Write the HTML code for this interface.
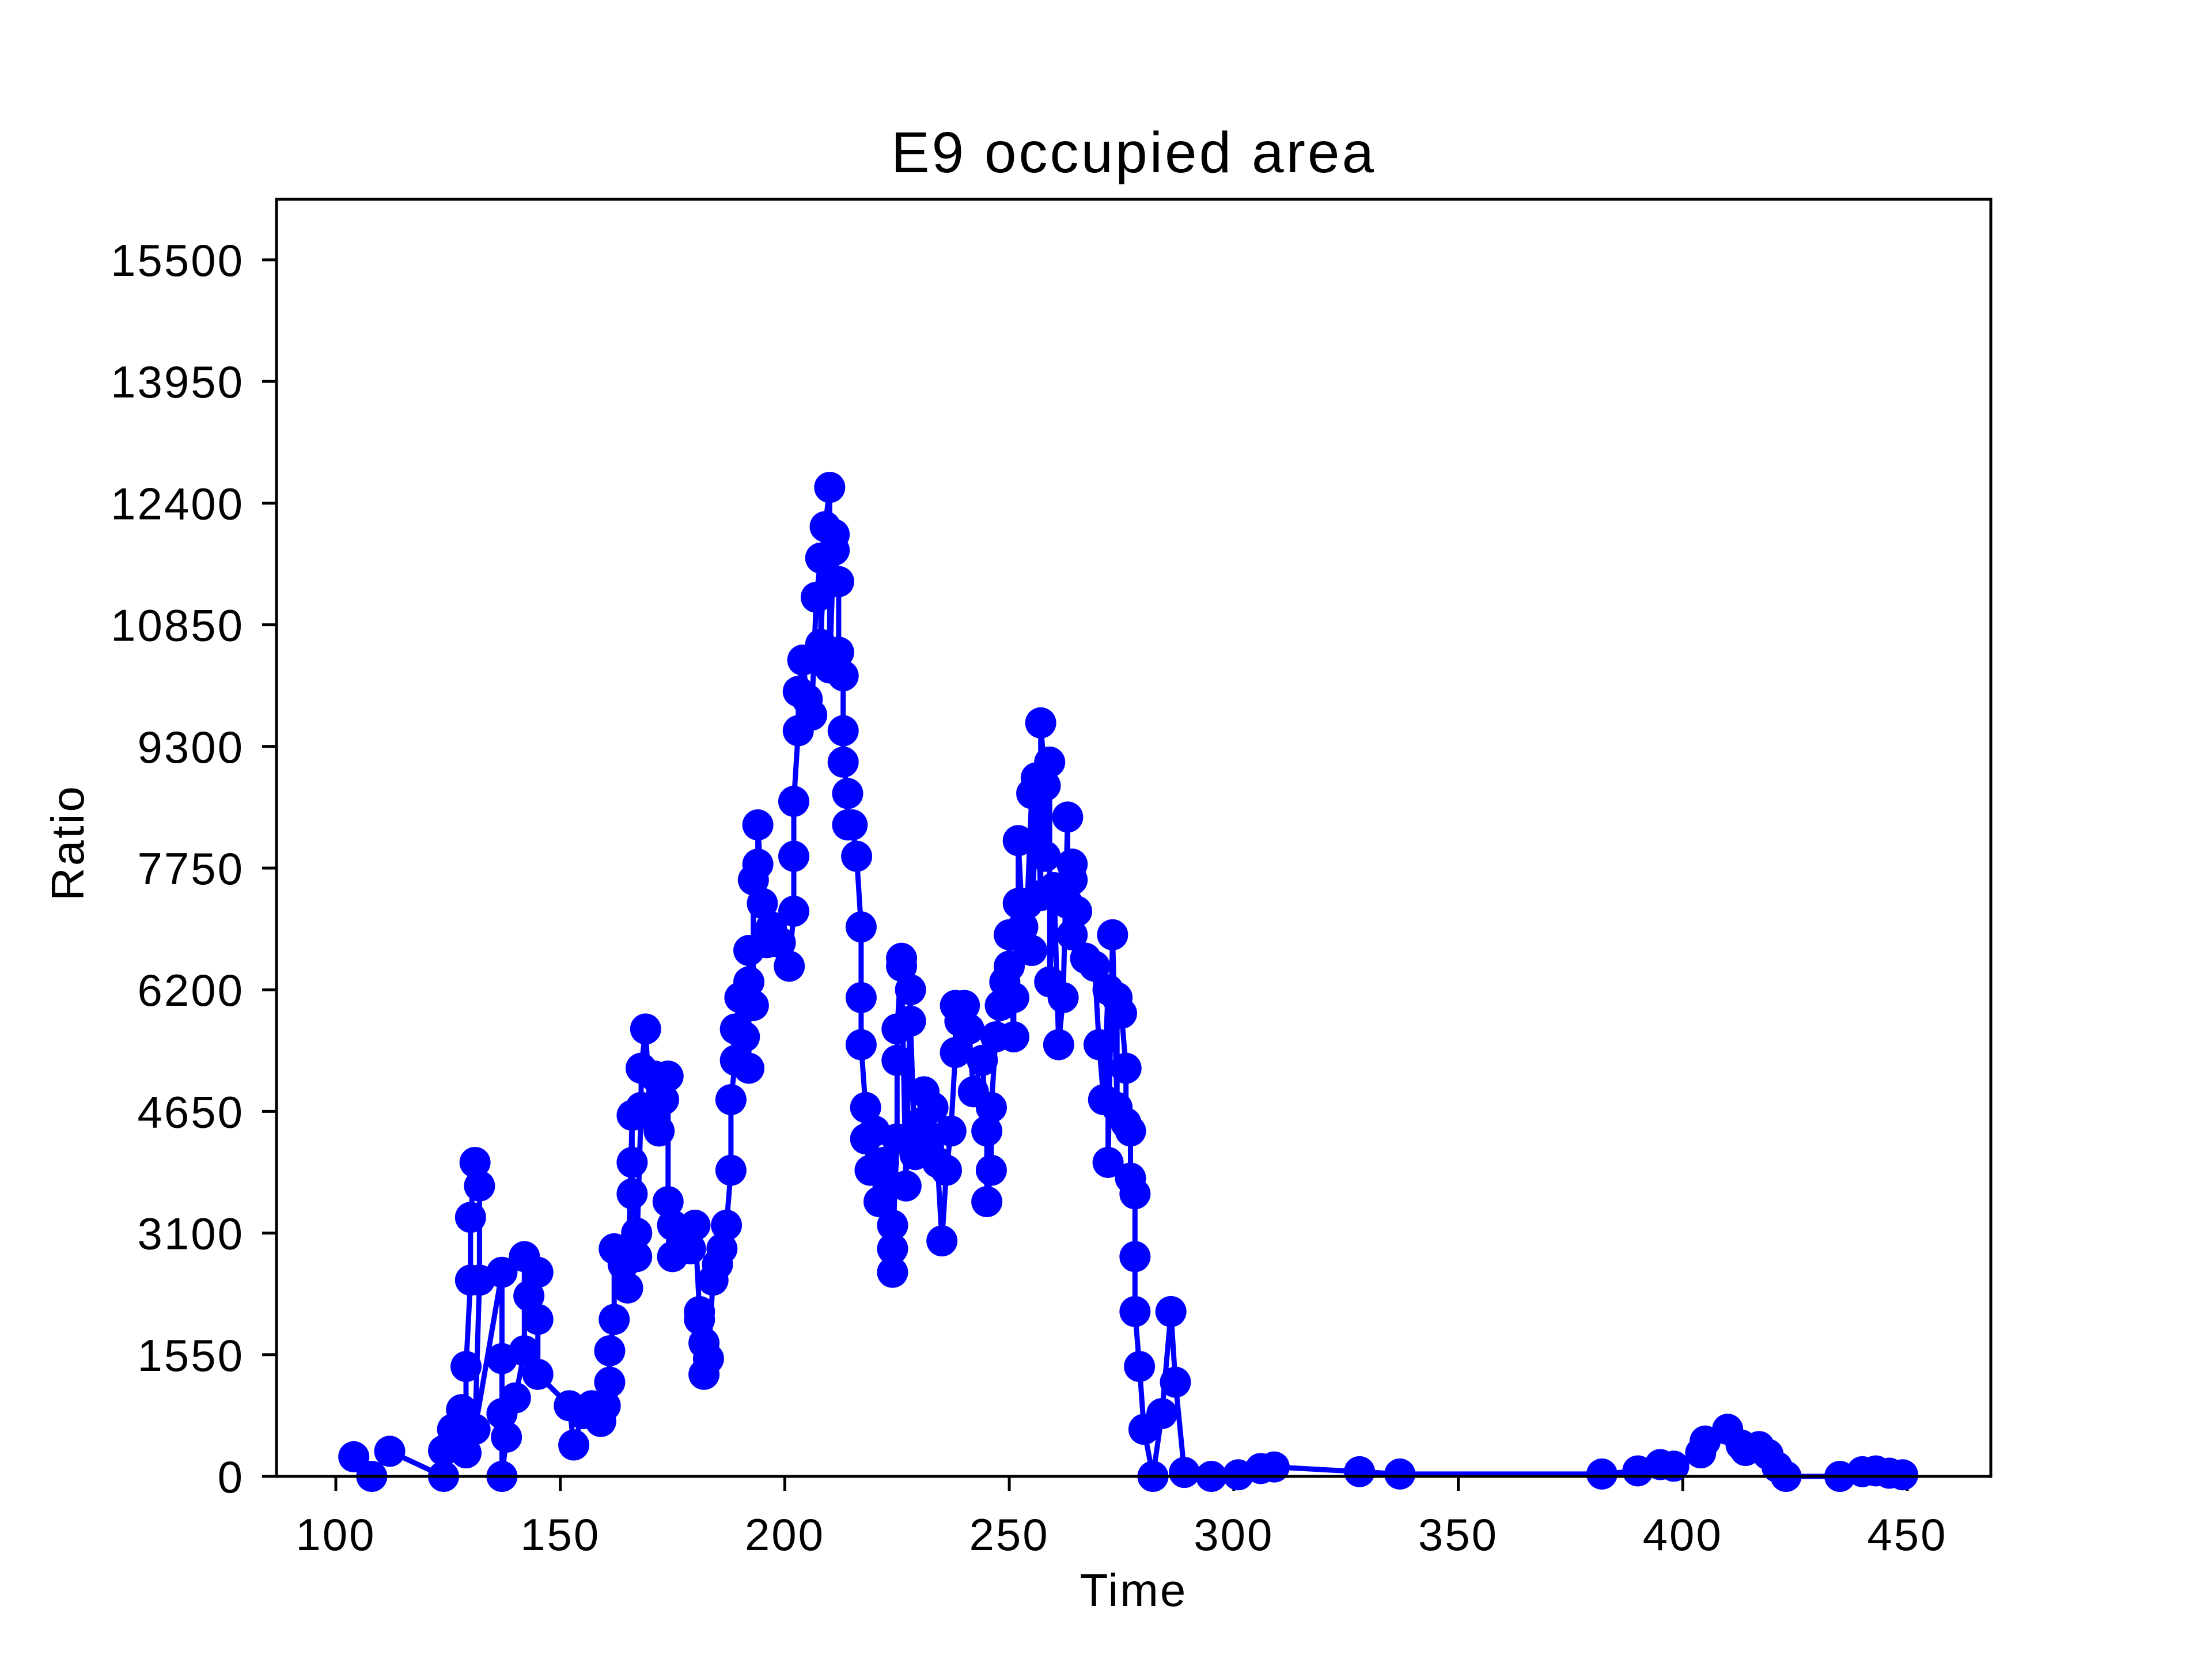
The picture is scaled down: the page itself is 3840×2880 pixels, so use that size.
<!DOCTYPE html>
<html><head><meta charset="utf-8"><style>
html,body{margin:0;padding:0;background:#fff;}
svg{display:block;font-family:"Liberation Sans","NanumGothic",sans-serif;}
</style></head><body>
<svg id="chart" width="3840" height="2880" viewBox="0 0 3840 2880" xmlns="http://www.w3.org/2000/svg">
<rect width="3840" height="2880" fill="#fff"/>
<text x="1968" y="299" font-size="100" letter-spacing="4" text-anchor="middle">E9 occupied area</text>
<g id="plot"></g>
<rect x="480" y="346" width="2976" height="2217" fill="none" stroke="#000" stroke-width="5"/>
<text x="1968" y="2788" font-size="80" letter-spacing="3" text-anchor="middle">Time</text>
<text x="0" y="0" font-size="80" letter-spacing="3" text-anchor="middle" transform="translate(145,1463) rotate(-90)">Ratio</text>
</svg>
<script>
const xTicks=[100,150,200,250,300,350,400,450];
const yTicks=[0,1550,3100,4650,6200,7750,9300,10850,12400,13950,15500];
const times=[104,108,112,124,124,126,128,129,129,130,130,131,132,132,131,137,137,137,137,138,140,142,142,143,145,145,145,152,153,155,157,159,160,161,161,162,162,164,165,166,166,166,167,167,168,168,169,170,171,172,173,174,174,175,175,177,179,180,181,181,182,182,183,184,185,186,187,188,188,189,189,190,191,192,192,192,193,193,194,194,195,196,197,199,201,202,202,202,203,203,204,205,206,207,208,208,209,210,210,211,211,212,212,213,213,213,214,214,215,216,217,217,217,218,218,219,220,221,222,223,224,224,224,225,225,225,226,226,227,228,228,229,230,231,232,233,234,235,236,237,238,238,239,240,241,242,244,245,245,246,246,247,248,249,250,250,251,251,252,252,253,254,255,255,256,257,257,258,258,259,259,260,261,262,263,263,264,264,264,265,267,269,270,271,272,272,273,274,274,275,276,276,277,277,278,278,278,279,280,282,284,286,287,289,295,301,306,309,328,337,382,390,395,398,404,405,410,413,414,417,419,421,423,435,440,443,446,449];
const values=[250,0,320,0,330,600,850,300,1400,2500,3300,4000,3700,2500,600,2600,1500,800,0,500,1000,1600,2800,2300,2600,2000,1300,900,400,800,900,700,900,1200,1600,2000,2900,2700,2400,4600,4000,3600,3100,2800,4700,5200,5700,4600,5100,4400,4800,5100,3500,3200,2800,3000,2900,3200,2100,2000,1300,1700,1500,2500,2700,2900,3200,3900,4800,5300,5700,6100,5600,5200,6700,6300,6000,7600,7800,8300,7300,6800,7000,6800,6500,7200,7900,8600,9500,10000,10400,9900,9700,11200,11700,10600,12100,12600,10300,12000,11800,11400,10500,10200,9500,9100,8700,8300,8300,7900,7000,6100,5500,4700,4300,3900,4400,3500,4000,3700,3200,2600,2900,4300,5300,5700,6600,6500,3700,6200,5800,4100,4500,4900,4200,4700,4000,3000,3900,4400,5400,6000,5800,6000,5700,4900,5300,4400,3500,3900,4700,5600,6000,6300,6500,6900,5600,6100,7300,8100,7000,7300,8700,6700,8900,7400,9600,8800,7900,9100,6300,7500,5500,6100,8400,7300,6900,7600,7800,7200,6600,6500,5500,4800,6200,4000,6900,4700,6100,5900,5200,4500,4400,3800,3600,2800,2100,1400,600,0,800,2100,1200,50,0,20,100,120,60,30,30,70,150,130,300,450,600,400,330,380,280,120,0,0,60,70,40,20];
const NS="http://www.w3.org/2000/svg";
function xs(t){return 583+(t-100)*7.794;}
function ys(v){return 2563-v*0.13626;}
const g=document.getElementById('plot');
for(const t of xTicks){
  const l=document.createElementNS(NS,'line');
  
  
  l.setAttribute('x1',xs(t));l.setAttribute('x2',xs(t));l.setAttribute('y1',2563);l.setAttribute('y2',2588);
  l.setAttribute('stroke','#000');l.setAttribute('stroke-width','5');g.appendChild(l);
  const tx=document.createElementNS(NS,'text');
  
  
  tx.setAttribute('x',xs(t));tx.setAttribute('y',2691);tx.setAttribute('font-size','78');tx.setAttribute('letter-spacing','3');tx.setAttribute('text-anchor','middle');
  tx.textContent=t;g.appendChild(tx);
}
for(const v of yTicks){
  const l=document.createElementNS(NS,'line');
  
  
  l.setAttribute('x1',455);l.setAttribute('x2',480);l.setAttribute('y1',ys(v));l.setAttribute('y2',ys(v));
  l.setAttribute('stroke','#000');l.setAttribute('stroke-width','5');g.appendChild(l);
  const tx=document.createElementNS(NS,'text');
  
  
  tx.setAttribute('x',424);tx.setAttribute('y',ys(v)+28);tx.setAttribute('font-size','78');tx.setAttribute('letter-spacing','3');tx.setAttribute('text-anchor','end');
  tx.textContent=v;g.appendChild(tx);
}
let d='';
times.forEach((t,i)=>{d+=(i?'L':'M')+xs(t).toFixed(1)+','+ys(values[i]).toFixed(1);});
const p=document.createElementNS(NS,'path');


p.setAttribute('d',d);p.setAttribute('fill','none');p.setAttribute('stroke','#0000ff');p.setAttribute('stroke-width','9');p.setAttribute('stroke-linejoin','round');
g.appendChild(p);
times.forEach((t,i)=>{
  const c=document.createElementNS(NS,'circle');
  
  
  c.setAttribute('cx',xs(t));c.setAttribute('cy',ys(values[i]));c.setAttribute('r','27');c.setAttribute('fill','#0000ff');
  g.appendChild(c);
});
</script>
</body></html>
